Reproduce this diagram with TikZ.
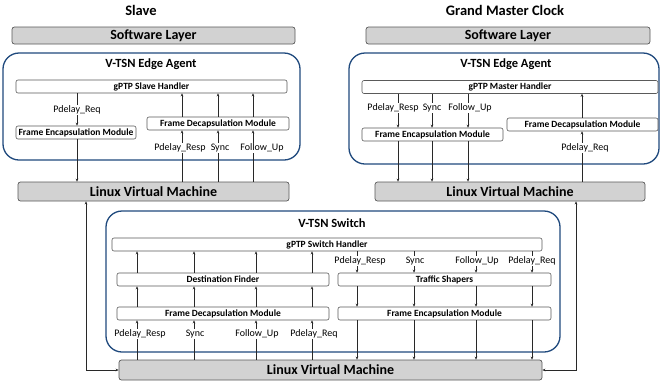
\documentclass[tikz,border=0pt]{standalone}
\usepackage{fontspec}
\setmainfont{Carlito}
\usetikzlibrary{arrows.meta}
\definecolor{agentblue}{RGB}{31,73,125}
\definecolor{layergray}{RGB}{210,210,210}
\definecolor{edgegray}{RGB}{90,90,90}
\definecolor{linegray}{RGB}{40,40,40}
\begin{document}
\begin{tikzpicture}[x=1pt,y=-1pt,
  layer/.style={draw=edgegray, fill=layergray, rounded corners=2.5pt, line width=0.7pt, inner sep=0pt, font=\bfseries\fontsize{14}{16}\selectfont},
  container/.style={draw=agentblue, line width=1.3pt, rounded corners=16pt, inner sep=0pt},
  modbox/.style={draw=edgegray, fill=white, rounded corners=2pt, line width=0.6pt, inner sep=0pt, minimum height=13pt, font=\bfseries\fontsize{9.5}{11}\selectfont},
  title/.style={font=\bfseries\fontsize{14.5}{17}\selectfont},
  ctitle/.style={font=\bfseries\fontsize{12.5}{15}\selectfont},
  msg/.style={fill=white, inner sep=1pt, font=\fontsize{10}{12}\selectfont},
  arr/.style={draw=linegray, line width=0.6pt, -{Stealth[length=3pt,width=2.6pt]}},
  dbl/.style={draw=linegray, line width=0.6pt, {Stealth[length=3pt,width=2.6pt]}-{Stealth[length=3pt,width=2.6pt]}},
]
\useasboundingbox (0,0) rectangle (660,381);
\fill[white] (0,0) rectangle (660,381);

% titles
\node[title] (tslave) at (141,10) {Slave};
\node[title] (tgm) at (505,10) {Grand Master Clock};

% software layers
\node[layer, minimum width=283pt, minimum height=17pt] (swL) at (153.5,35.5) {Software Layer};
\node[layer, minimum width=284pt, minimum height=17pt] (swR) at (508,35.5) {Software Layer};

% containers
\node[container, minimum width=297pt, minimum height=107pt] (agentL) at (151.5,106.5) {};
\node[ctitle] (agentLt) at (151,64) {V-TSN Edge Agent};
\node[container, minimum width=310pt, minimum height=111pt] (agentR) at (504,108.5) {};
\node[ctitle] (agentRt) at (506,64) {V-TSN Edge Agent};
\node[container, minimum width=454pt, minimum height=141pt] (switch) at (333,281.5) {};
\node[ctitle] (switcht) at (332,223) {V-TSN Switch};

% slave modules
\node[modbox, minimum width=271pt] (gptpS) at (151.5,86.5) {gPTP Slave Handler};
\node[modbox, minimum width=120pt] (encS) at (76,132.5) {Frame Encapsulation Module};
\node[modbox, minimum width=142pt] (decS) at (218,123.5) {Frame Decapsulation Module};
\node[layer, minimum width=271pt, minimum height=19pt] (lvmL) at (153.5,191.5) {Linux Virtual Machine};

% master modules
\node[modbox, minimum width=296pt] (gptpM) at (510,87) {gPTP Master Handler};
\node[modbox, minimum width=141pt] (encM) at (432.5,134.5) {Frame Encapsulation Module};
\node[modbox, minimum width=151pt] (decM) at (582.5,124.5) {Frame Decapsulation Module};
\node[layer, minimum width=270pt, minimum height=19pt] (lvmR) at (510,191.5) {Linux Virtual Machine};

% switch modules
\node[modbox, minimum width=430pt] (gptpSw) at (327,244.5) {gPTP Switch Handler};
\node[modbox, minimum width=212pt] (destF) at (223,279.5) {Destination Finder};
\node[modbox, minimum width=212pt] (decSw) at (223,313.5) {Frame Decapsulation Module};
\node[modbox, minimum width=213pt] (tsh) at (444.5,279.5) {Traffic Shapers};
\node[modbox, minimum width=213pt] (encSw) at (444.5,313.5) {Frame Encapsulation Module};
\node[layer, minimum width=423pt, minimum height=20pt] (lvmB) at (330.5,370) {Linux Virtual Machine};

% column coordinates
\coordinate (s1) at (77,0);
\coordinate (s2) at (182,0);
\coordinate (s3) at (218,0);
\coordinate (s4) at (253,0);
\coordinate (m1) at (398,0);
\coordinate (m2) at (432,0);
\coordinate (m3) at (468,0);
\coordinate (m4) at (582,0);
\coordinate (w1) at (137,0);
\coordinate (w2) at (194,0);
\coordinate (w3) at (256,0);
\coordinate (w4) at (312,0);
\coordinate (v1) at (357,0);
\coordinate (v2) at (414,0);
\coordinate (v3) at (476,0);
\coordinate (v4) at (532,0);
\coordinate (lx) at (86,0);
\coordinate (rx) at (576,0);

% slave connectors
\draw[arr] (gptpS.south -| s1) -- (encS.north -| s1);
\draw[arr] (encS.south -| s1) -- (lvmL.north -| s1);
\foreach \c in {s2,s3,s4} {
  \draw[arr] (lvmL.north -| \c) -- (decS.south -| \c);
  \draw[arr] (decS.north -| \c) -- (gptpS.south -| \c);
}

% master connectors
\foreach \c in {m1,m2,m3} {
  \draw[arr] (gptpM.south -| \c) -- (encM.north -| \c);
  \draw[arr] (encM.south -| \c) -- (lvmR.north -| \c);
}
\draw[arr] (lvmR.north -| m4) -- (decM.south -| m4);
\draw[arr] (decM.north -| m4) -- (gptpM.south -| m4);

% switch connectors
\foreach \c in {w1,w2,w3,w4} {
  \draw[arr] (lvmB.north -| \c) -- (decSw.south -| \c);
  \draw[arr] (decSw.north -| \c) -- (destF.south -| \c);
  \draw[arr] (destF.north -| \c) -- (gptpSw.south -| \c);
}
\foreach \c in {v1,v2,v3,v4} {
  \draw[arr] (gptpSw.south -| \c) -- (tsh.north -| \c);
  \draw[arr] (tsh.south -| \c) -- (encSw.north -| \c);
  \draw[arr] (encSw.south -| \c) -- (lvmB.north -| \c);
}

% outer links
\draw[dbl] (lvmL.south -| lx) |- (lvmB.west);
\draw[dbl] (lvmR.south -| rx) |- (lvmB.east);

% message labels
\node[msg] (lsa) at (77,110) {Pdelay\_Req};
\node[msg] (lsb) at (180,148) {Pdelay\_Resp};
\node[msg] (lsc) at (220,148) {Sync};
\node[msg] (lsd) at (262,148) {Follow\_Up};
\node[msg] (lma) at (393,108) {Pdelay\_Resp};
\node[msg] (lmb) at (432,108) {Sync};
\node[msg] (lmc) at (470,108) {Follow\_Up};
\node[msg] (lmd) at (585,148) {Pdelay\_Req};
\node[msg] (lwa) at (140,334) {Pdelay\_Resp};
\node[msg] (lwb) at (195,334) {Sync};
\node[msg] (lwc) at (257,334) {Follow\_Up};
\node[msg] (lwd) at (314,334) {Pdelay\_Req};
\node[msg] (lva) at (360,261) {Pdelay\_Resp};
\node[msg] (lvb) at (415,261) {Sync};
\node[msg] (lvc) at (477,261) {Follow\_Up};
\node[msg] (lvd) at (532,261) {Pdelay\_Req};
\end{tikzpicture}
\end{document}
